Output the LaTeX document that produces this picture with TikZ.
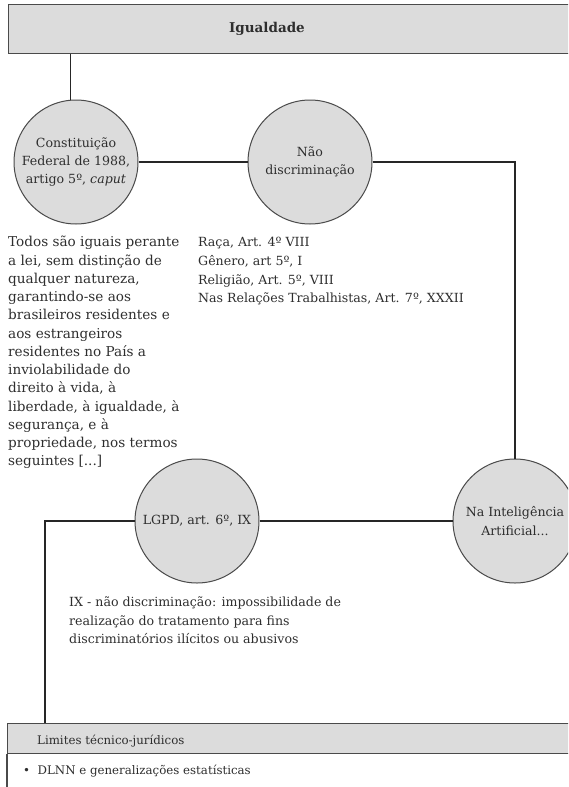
\documentclass[tikz,border=0pt]{standalone}
\usepackage{fontspec}
\setmainfont{DejaVu Serif}
\definecolor{fillg}{HTML}{DCDCDC}
\definecolor{edge}{HTML}{4A4A4A}
\definecolor{txt}{HTML}{2E2E2E}
\definecolor{linec}{HTML}{262626}
\begin{document}
\begin{tikzpicture}[x=1pt,y=-1pt,
  circ/.style={circle, draw=edge, line width=1pt, fill=fillg, minimum size=124pt, inner sep=0pt, align=center, font=\fontsize{12.6}{18.3}\selectfont, text=txt},
  link/.style={draw=linec, line width=1.5pt},
  body/.style={anchor=north west, align=left, inner sep=0pt, font=\fontsize{12.6}{18.3}\selectfont, text=txt},
  bar/.style={draw=edge, line width=1.3pt, fill=fillg, rectangle, inner sep=0pt, anchor=north west},
  small/.style={anchor=west, inner sep=0pt, font=\fontsize{11.8}{16}\selectfont, text=txt}
]
\clip (0,0) rectangle (568,787);
% title box
\node[bar, minimum width=600pt, minimum height=49pt] (top) at (8,4) {};
\node[font=\fontsize{13.5}{16}\selectfont\bfseries, text=txt, inner sep=0pt] (title) at (267,29) {Igualdade};
% circles
\node[circ] (c1) at (76,162) {Constituição\\Federal de 1988,\\artigo 5º, \textit{caput}};
\node[circ] (c2) at (310,162) {Não\\discriminação};
\node[circ] (ia) at (515,521) {Na Inteligência\\Artificial...};
\node[circ] (lg) at (197,521) {LGPD, art. 6º, IX};
% bottom box
\node[bar, minimum width=600pt, minimum height=30pt] (bot) at (7,723) {};
\draw[draw=edge, line width=1.3pt] (bot.south west) -- ++(0,60);
\node[small] (lim) at (37,741) {Limites técnico-jurídicos};
\node[small] (dl) at (23,771) {\textbullet\ \ DLNN e generalizações estatísticas};
% texts
\node[body, font=\fontsize{13.6}{18.25}\selectfont] (t1) at (8,236) {Todos são iguais perante\\a lei, sem distinção de\\qualquer natureza,\\garantindo-se aos\\brasileiros residentes e\\aos estrangeiros\\residentes no País a\\inviolabilidade do\\direito à vida, à\\liberdade, à igualdade, à\\segurança, e à\\propriedade, nos termos\\seguintes [...]};
\node[body, font=\fontsize{12.6}{18.8}\selectfont] (t2) at (198,237) {Raça, Art. 4º VIII\\Gênero, art 5º, I\\Religião, Art. 5º, VIII\\Nas Relações Trabalhistas, Art. 7º, XXXII};
\node[body] (t3) at (69,597) {IX - não discriminação: impossibilidade de\\realização do tratamento para fins\\discriminatórios ilícitos ou abusivos};
% connectors
\coordinate (k1) at (515,162);
\coordinate (k2) at (45,521);
\draw[link] (c1.95 |- top.south) -- (c1.95);
\draw[link] (c1.east) -- (c2.west);
\draw[link] (c2.east) -- (k1) -- (ia.north);
\draw[link] (lg.east) -- (ia.west);
\draw[link] (lg.west) -- (k2) -- (k2 |- bot.north);
\end{tikzpicture}
\end{document}
